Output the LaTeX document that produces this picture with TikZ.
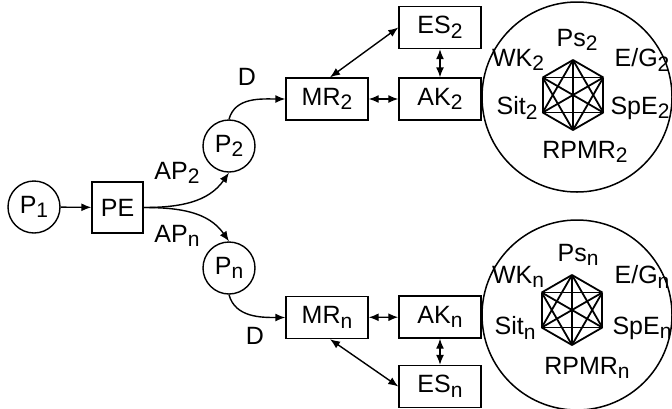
\documentclass[tikz,border=0pt]{standalone}
\usepackage{fontspec}
\setmainfont{Liberation Sans}
\usetikzlibrary{arrows.meta}
% lowered, slightly smaller index
\newcommand{\lsub}[1]{\raisebox{-4.5pt}{\fontsize{21}{21}\selectfont #1}}
\begin{document}
\begin{tikzpicture}[x=1pt,y=-1pt,
  every node/.style={font=\fontsize{25}{29}\selectfont},
  place/.style={draw,circle,line width=1.4pt,minimum size=52pt,inner sep=0pt},
  unit/.style={draw,line width=1.4pt,minimum width=82pt,minimum height=42pt,inner sep=0pt},
  tip/.tip={Latex[length=10pt,width=8pt]},
  arr/.style={line width=1.4pt,-tip},
  darr/.style={line width=1.4pt,tip-tip},
  world/.style={draw,circle,line width=1.5pt,minimum size=190pt,inner sep=0pt},
  hexline/.style={line width=1.8pt},
  lbl/.style={inner sep=0pt}]
\useasboundingbox (0,0) rectangle (672,408);

% left part
\node[place] (P1) at (34,207) {P\lsub{1}};
\node[unit,minimum width=51pt,minimum height=51pt] (PE) at (117.5,207.5) {PE};
\node[place] (P2) at (229,146) {P\lsub{2}};
\node[place] (Pn) at (229,268) {P\lsub{n}};

\draw[arr] (P1) -- (PE);
\draw[arr] (PE.east) to[out=0,in=-125] (P2.south);
\draw[arr] (PE.east) to[out=0,in=125] (Pn.north);
\node[lbl] (AP2) at (177,173) {AP\lsub{2}};
\node[lbl] (APn) at (177,236) {AP\lsub{n}};

% upper branch
\node[unit] (MR2) at (327,99) {MR\lsub{2}};
\node[unit] (AK2) at (440,99) {AK\lsub{2}};
\node[unit] (ES2) at (440,27.5) {ES\lsub{2}};
\draw[arr] (P2.north) to[out=75,in=180] (MR2.west);
\node[lbl] (D2) at (247,77) {D};
\draw[darr] (MR2) -- (AK2);
\draw[darr] (ES2) -- (AK2);
\draw[darr] ([xshift=3pt]MR2.north) -- (ES2.west);

% lower branch
\node[unit] (MRn) at (327,317.5) {MR\lsub{n}};
\node[unit] (AKn) at (440,317) {AK\lsub{n}};
\node[unit] (ESn) at (440,386.5) {ES\lsub{n}};
\draw[arr] (Pn.south) to[out=-75,in=180] (MRn.west);
\node[lbl] (Dn) at (255,336) {D};
\draw[darr] (MRn) -- (AKn);
\draw[darr] (AKn) -- (ESn);
\draw[darr] ([xshift=3pt]MRn.south) -- (ESn.west);

% upper circle with its complete graph
\node[world] (W2) at (577,97) {};
\begin{scope}[shift={(573,95)}]
  \foreach \i in {0,...,5} \coordinate (a\i) at (90+60*\i:35pt);
\end{scope}
\foreach \i in {0,...,4}{
  \pgfmathtruncatemacro\k{\i+1}
  \foreach \j in {\k,...,5} \draw[hexline] (a\i) -- (a\j);
}
\node[lbl] (Ps2) at (577,40) {Ps\lsub{2}};
\node[lbl] (WK2) at (518,60) {WK\lsub{2}};
\node[lbl] (EG2) at (642,60) {E/G\lsub{2}};
\node[lbl] (Sit2) at (517,108) {Sit\lsub{2}};
\node[lbl] (SpE2) at (640,108) {SpE\lsub{2}};
\node[lbl] (RPMR2) at (585,152) {RPMR\lsub{2}};

% lower circle with its complete graph
\node[world] (Wn) at (577,315) {};
\begin{scope}[shift={(572,310)}]
  \foreach \i in {0,...,5} \coordinate (b\i) at (90+60*\i:35pt);
\end{scope}
\foreach \i in {0,...,4}{
  \pgfmathtruncatemacro\k{\i+1}
  \foreach \j in {\k,...,5} \draw[hexline] (b\i) -- (b\j);
}
\node[lbl] (Psn) at (578,255) {Ps\lsub{n}};
\node[lbl] (WKn) at (518,277) {WK\lsub{n}};
\node[lbl] (EGn) at (642,277) {E/G\lsub{n}};
\node[lbl] (Sitn) at (515,328) {Sit\lsub{n}};
\node[lbl] (SpEn) at (642,328) {SpE\lsub{n}};
\node[lbl] (RPMRn) at (587,368) {RPMR\lsub{n}};
\end{tikzpicture}
\end{document}
